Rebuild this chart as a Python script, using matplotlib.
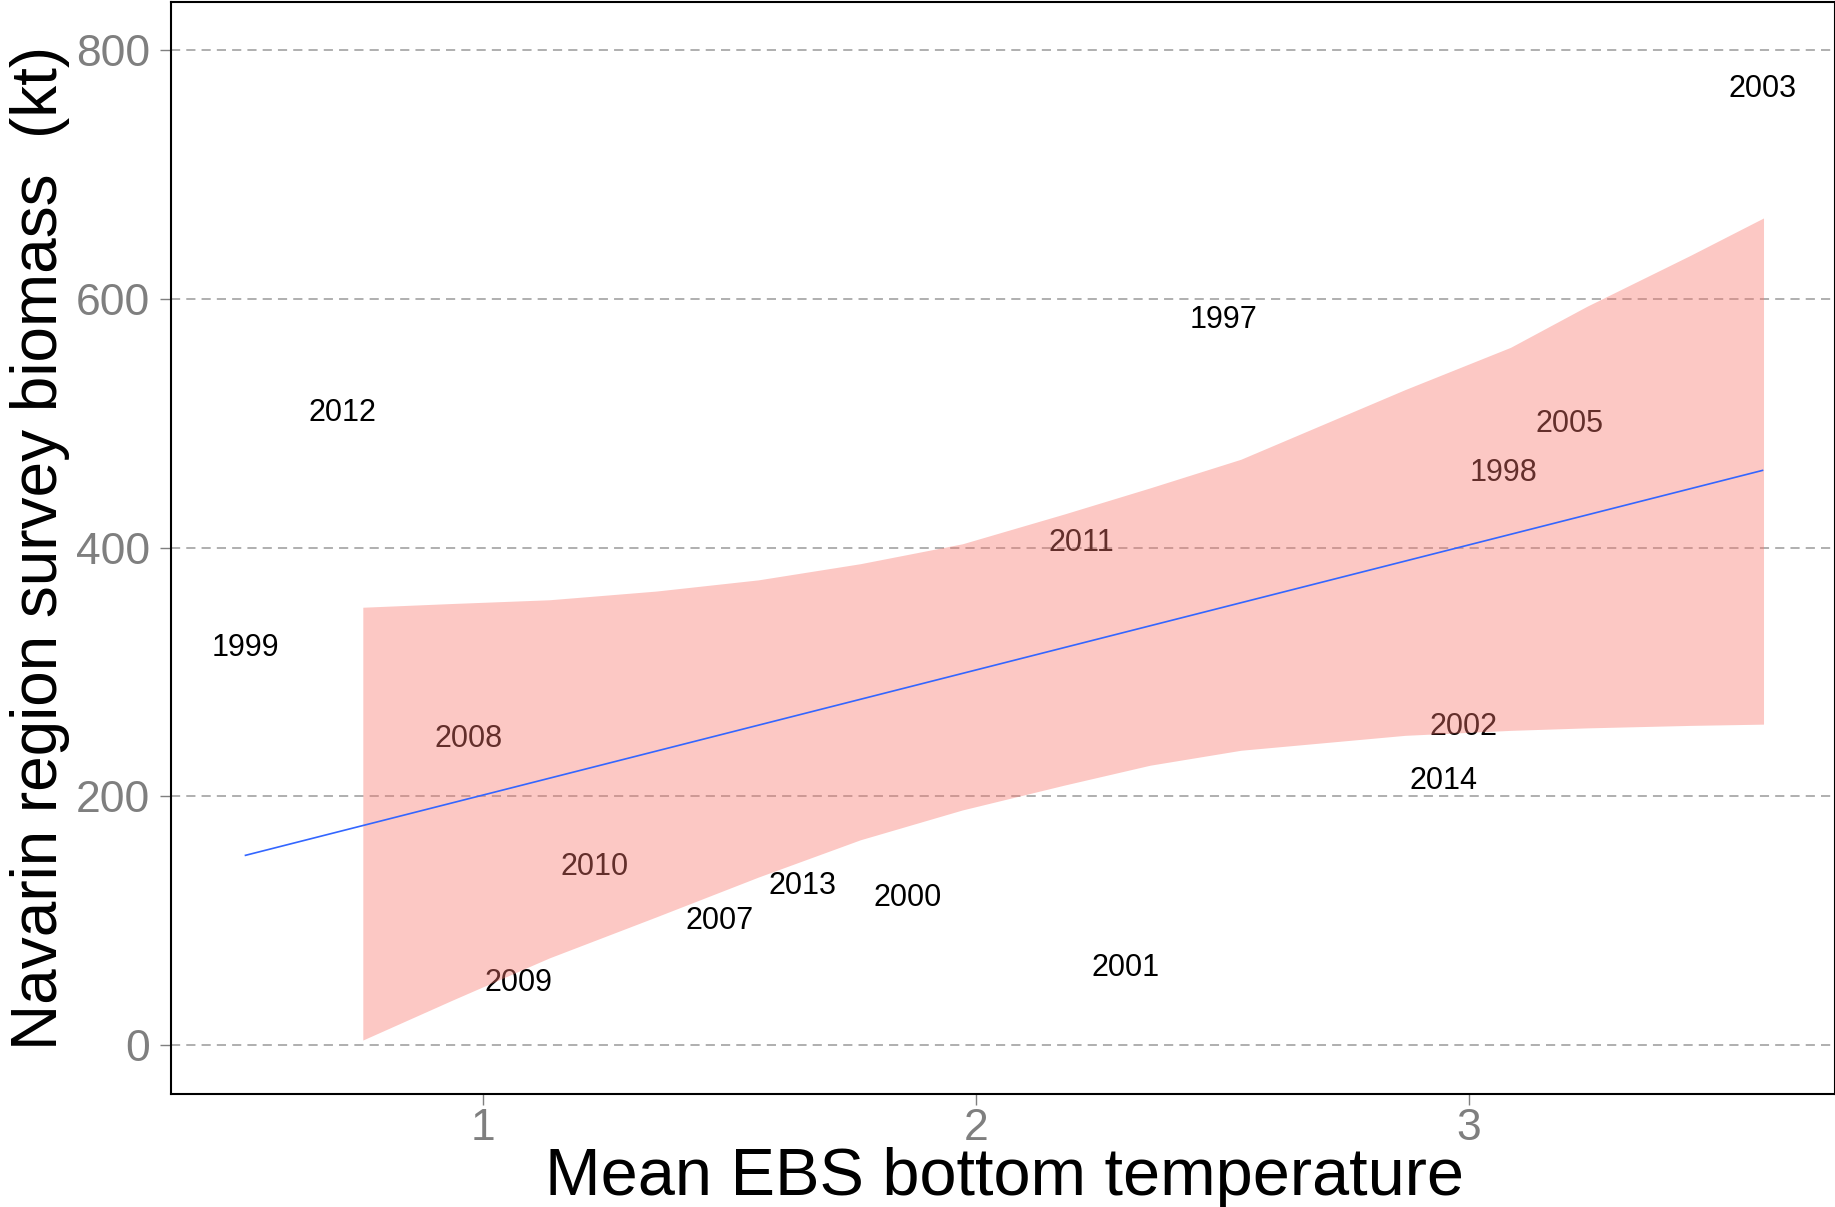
import numpy as np
import matplotlib
matplotlib.use("Agg")
import matplotlib.pyplot as plt

# ---- data ----
years = ["2003", "1997", "2012", "2005", "1998", "2011", "1999", "2008",
         "2002", "2014", "2010", "2013", "2000", "2007", "2001", "2009"]
temp = [3.595, 2.501, 0.715, 3.204, 3.069, 2.214, 0.518, 0.971,
        2.988, 2.948, 1.226, 1.648, 1.862, 1.480, 2.304, 1.071]
biomass = [769, 583, 508, 499, 460, 404, 319, 246,
           256, 212, 143, 128, 118, 100, 62, 50]

# shaded band
band_x = [0.756, 0.937, 1.134, 1.351, 1.558, 1.765, 1.972, 2.179, 2.353,
          2.537, 2.870, 3.084, 3.239, 3.449, 3.597]
band_hi = [352, 355, 358, 365, 374, 387, 403, 427, 448,
           471, 527, 561, 594, 635, 665]
band_lo = [4, 36, 70, 103, 135, 165, 189, 209, 225,
           237, 249, 253, 255, 257, 258]

x_ticks = [1, 2, 3]
y_ticks = [0, 200, 400, 600, 800]

# ---- figure ----
plt.rcParams['font.family'] = ['Liberation Sans', 'DejaVu Sans']
fig = plt.figure(figsize=(18.35, 12.07), dpi=100)
ax = fig.add_axes([0.0932, 0.0936, 0.9068, 0.9047])

ax.set_xlim(0.367, 3.742)
ax.set_ylim(-39.4, 838.6)

for yt in y_ticks:
    ax.axhline(yt, color='#9a9a9a', lw=1.1, ls=(0, (6, 4)), zorder=0)

for name, xv, yv in zip(years, temp, biomass):
    ax.text(xv, yv, name, ha='center', va='center', fontsize=22,
            color='black', zorder=2)

ax.fill_between(band_x, band_lo, band_hi, color='#F8766D', alpha=0.4,
                lw=0, zorder=3)

xa = np.array(temp)
ya = np.array(biomass)
slope, icpt = np.polyfit(xa, ya, 1)
lx = np.array([xa.min(), xa.max()])
ax.plot(lx, icpt + slope * lx, color='#3366FF', lw=1.2, zorder=4)

ax.set_xticks(x_ticks)
ax.set_yticks(y_ticks)
ax.set_xticklabels([str(v) for v in x_ticks])
ax.set_yticklabels([str(v) for v in y_ticks])
ax.tick_params(axis='both', colors='#7f7f7f', labelsize=32, length=8,
               width=1.0, pad=6)
ax.tick_params(axis='y', pad=7)
ax.tick_params(axis='x', pad=2)

for s in ['top', 'left', 'bottom', 'right']:
    ax.spines[s].set_color('black')
    ax.spines[s].set_linewidth(1.5)

ax.set_xlabel('Mean EBS bottom temperature', fontsize=48, color='black')
ax.xaxis.label.set_va('baseline')
ax.xaxis.set_label_coords(0.501, -0.0925)
ax.set_ylabel('Navarin region survey biomass  (kt)', fontsize=46,
              color='black', labelpad=4)

fig.savefig('out.png', dpi=100, facecolor='white')
